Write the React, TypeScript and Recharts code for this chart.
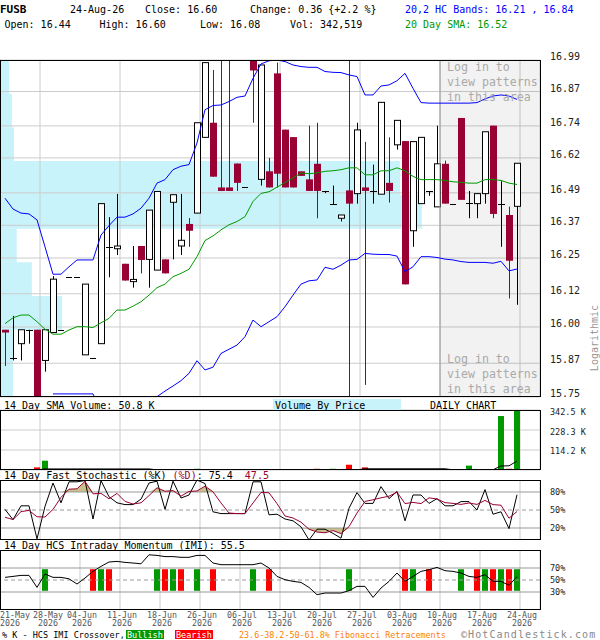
import React from "react";
import {
  BarChart,
  ComposedChart,
  Bar,
  Line,
  Area,
  Cell,
  XAxis,
  YAxis,
  CartesianGrid,
  ReferenceArea,
  ReferenceLine,
} from "recharts";

const MONO = '"DejaVu Sans Mono", "Liberation Mono", monospace';
const MAROON = "#990033";
const UP_GREEN = "#009900";
const DOWN_RED = "#ff0000";
const BAND_BLUE = "#0000ff";
const GRID = "#cccccc";
const KHAKI = "#c9c08c";
const VBP_CYAN = "#c9f3fa";

const ticker = "FUSB";
const lastDate = "24-Aug-26";
const dateLabels = [
  "21-May", "28-May", "04-Jun", "11-Jun", "18-Jun", "26-Jun", "06-Jul",
  "13-Jul", "20-Jul", "27-Jul", "03-Aug", "10-Aug", "17-Aug", "24-Aug",
];
const dateYear = "2026";

// daily OHLC, 21-May-26 .. 24-Aug-26
const opens = [
  15.99, 15.89, 15.94, 15.99, 15.99, 15.88, 15.98, 15.99, 16.18, 16.18,
  15.9, 15.89, 15.94, 16.29, 16.284, 16.229, 16.164, 16.294, 16.245, 16.206,
  16.245, 16.455, 16.294, 16.375, 16.415, 16.697, 16.752, 16.51, 16.51, 16.599,
  16.51, 16.99, 16.54, 16.57, 16.939, 16.726, 16.698, 16.57, 16.54, 16.598,
  16.497, 16.448, 16.396, 16.499, 16.487, 16.51, 16.497, 16.485, 16.527, 16.669,
  16.683, 16.35, 16.45, 16.497, 16.438, 16.598, 16.45, 16.77, 16.454, 16.45,
  16.487, 16.741, 16.45, 16.408, 16.44,
];
const highs = [
  15.99, 16.04, 15.99, 15.99, 15.99, 15.99, 16.184, 15.99, 16.18, 16.18,
  16.155, 15.89, 16.45, 16.4, 16.486, 16.229, 16.294, 16.294, 16.426, 16.495,
  16.245, 16.483, 16.486, 16.397, 16.752, 16.98, 16.952, 17.1, 17.1, 16.599,
  16.51, 16.99, 16.971, 16.62, 16.98, 16.726, 16.698, 16.57, 16.741, 16.752,
  16.497, 16.517, 16.408, 17.1, 16.752, 16.68, 16.595, 16.829, 16.697, 16.761,
  16.683, 16.681, 16.697, 16.497, 16.741, 16.61, 16.45, 16.77, 16.497, 16.487,
  16.718, 16.741, 16.533, 16.439, 16.6,
];
const lows = [
  15.86, 15.88, 15.88, 15.94, 15.68, 15.84, 15.98, 15.99, 16.18, 16.18,
  15.9, 15.89, 15.94, 16.18, 16.261, 16.168, 16.142, 16.194, 16.142, 16.206,
  16.194, 16.245, 16.261, 16.291, 16.415, 16.697, 16.55, 16.497, 16.497, 16.497,
  16.51, 16.752, 16.517, 16.51, 16.51, 16.51, 16.51, 16.553, 16.497, 16.396,
  16.489, 16.448, 16.384, 15.7, 16.45, 15.793, 16.45, 16.485, 16.454, 16.651,
  16.154, 16.291, 16.45, 16.479, 16.438, 16.45, 16.45, 16.464, 16.396, 16.396,
  16.45, 16.396, 16.291, 16.103, 16.08,
];
const closes = [
  15.98, 15.89, 15.99, 15.99, 15.7, 15.99, 16.173, 15.99, 16.18, 16.18,
  16.155, 15.89, 16.45, 16.29, 16.294, 16.168, 16.172, 16.243, 16.426, 16.495,
  16.194, 16.483, 16.315, 16.35, 16.752, 16.98, 16.55, 16.497, 16.497, 16.527,
  16.51, 16.95, 16.971, 16.51, 16.561, 16.51, 16.51, 16.553, 16.497, 16.497,
  16.497, 16.448, 16.408, 16.45, 16.725, 16.497, 16.497, 16.829, 16.497, 16.761,
  16.154, 16.681, 16.697, 16.497, 16.598, 16.45, 16.45, 16.464, 16.454, 16.487,
  16.718, 16.412, 16.45, 16.24, 16.6,
];

// 20,2 HC bands and 20 day SMA
const upperBand = [
  16.47, 16.43, 16.415, 16.412, 16.39, 16.291, 16.191, 16.191, 16.218, 16.243,
  16.243, 16.243, 16.334, 16.369, 16.4, 16.4, 16.412, 16.433, 16.47, 16.526,
  16.539, 16.576, 16.589, 16.595, 16.676, 16.801, 16.817, 16.819, 16.832, 16.848,
  16.853, 16.92, 16.975, 16.987, 16.99, 16.984, 16.971, 16.965, 16.962, 16.962,
  16.946, 16.943, 16.942, 16.933, 16.927, 16.857, 16.857, 16.891, 16.895, 16.911,
  16.939, 16.882, 16.828, 16.826, 16.826, 16.826, 16.826, 16.826, 16.826, 16.828,
  16.842, 16.853, 16.857, 16.853, 16.84,
];
const lowerBand = [
  null, null, null, null, null, null, 15.761, 15.761, 15.761, 15.761,
  15.761, 15.761, 15.7, 15.69, 15.69, 15.69, 15.7, 15.71, 15.73, 15.751,
  15.771, 15.789, 15.808, 15.834, 15.879, 15.846, 15.856, 15.905, 15.92, 15.935,
  15.965, 16.025, 16.001, 16.019, 16.037, 16.073, 16.115, 16.155, 16.167, 16.17,
  16.216, 16.209, 16.224, 16.243, 16.245, 16.267, 16.264, 16.263, 16.263, 16.257,
  16.2, 16.218, 16.255, 16.255, 16.252, 16.246, 16.243, 16.237, 16.234, 16.234,
  16.234, 16.231, 16.238, 16.203, 16.21,
];
const sma20 = [
  16.012, 16.033, 16.043, 16.043, 16.019, 15.992, 15.974, 15.974, 15.989, 16.001,
  16.001, 15.998, 16.015, 16.031, 16.061, 16.061, 16.075, 16.091, 16.115, 16.142,
  16.155, 16.182, 16.194, 16.209, 16.255, 16.314, 16.331, 16.353, 16.372, 16.384,
  16.402, 16.458, 16.488, 16.494, 16.511, 16.528, 16.545, 16.564, 16.561, 16.564,
  16.57, 16.572, 16.576, 16.583, 16.583, 16.557, 16.557, 16.572, 16.572, 16.583,
  16.572, 16.551, 16.539, 16.539, 16.539, 16.536, 16.531, 16.529, 16.526, 16.526,
  16.539, 16.539, 16.536, 16.526, 16.521,
];

// volume in thousands of shares, and its 14 day SMA
const volumeK = [
  4, 6, 0.5, 0.5, 15, 53, 3, 3, 3, 3,
  3, 3, 3, 3, 3, 3, 3, 3, 3, 0.5,
  0.5, 0.5, 0.5, 0.5, 7, 0.5, 0.5, 0.5, 0.5, 0.5,
  0.5, 0.5, 0.5, 0.5, 0.5, 0.5, 0.5, 0.5, 0.5, 7,
  0.5, 7, 0.5, 30, 0.5, 15, 3, 3, 3, 3,
  3, 3, 3, 3, 3, 3, 0.5, 0.5, 25, 0.5,
  0.5, 2, 308, 7, 342.519,
];
const volumeSmaK = [
  1, 1, 1, 1, 1, 6, 6, 6, 6, 6,
  6, 6, 6, 6, 6, 6, 6, 6, 6, 1,
  1, 1, 1, 1, 1, 1, 1, 1, 1, 1,
  1, 1, 1, 1, 1, 1, 1, 1, 1, 1,
  1, 1, 1, 1, 1, 7, 7, 7, 7, 7,
  7, 7, 7, 7, 7, 7, 1, 1, 1, 1,
  1, 1, 23, 24, 50.8,
];

// 14 day fast stochastic
const stochK = [
  51, 34, 57, 57, 2, 56, 95, 62, 97, 97,
  99, 35, 99, 72, 62, 59, 59, 68, 95, 98,
  51, 98, 70, 75, 100, 94, 47, 44, 44, 44,
  44, 97, 97, 42, 43, 35, 32, 22, 0, 18,
  18, 11, 3, 53, 79, 61, 61, 89, 69, 81,
  32, 75, 75, 61, 69, 57, 57, 64, 64, 50,
  84, 43, 47, 19, 75.4,
];
const stochD = [
  38, 34, 47.3, 49.3, 38.7, 38.3, 51, 71, 84.7, 85.3,
  97.7, 77, 77.7, 68.7, 77.7, 64.3, 60, 62, 74, 87,
  81.3, 82.3, 73, 81, 81.7, 89.7, 80.3, 61.7, 45, 44,
  44, 61.7, 79.3, 78.7, 60.7, 40, 36.7, 29.7, 18, 13.3,
  12, 15.7, 10.7, 22.3, 45, 64.3, 67, 70.3, 73, 79.7,
  60.7, 62.7, 60.7, 70.3, 68.3, 62.3, 61, 59.3, 61.7, 59.3,
  66, 59, 58, 36.3, 47.5,
];

// 14 day HCS intraday momentum
const imi = [
  54.4, 56, 57.7, 57.7, 37.7, 60, 54.4, 54.4, 52, 43.3,
  53.3, 64.4, 72.7, 80, 81, 79.4, 78.3, 77, 92, 91,
  89, 89, 87.8, 87.8, 91, 91, 78.3, 75.5, 75.5, 75.5,
  75.5, 75.5, 78.3, 70, 56, 50.5, 47.7, 46, 37.7, 25.5,
  28.3, 28.3, 28.3, 32.2, 39.4, 39.4, 21, 36.6, 47.7, 61.6,
  47.7, 56, 64.4, 67.2, 71, 65.5, 64.4, 61.6, 56, 54.4,
  58.9, 47.7, 47.7, 41.1, 55.5,
];

// %K / IMI crossover days (row index)
const bullishDays = [5, 12, 19, 21, 24, 31, 43, 51, 57, 60, 62, 64];
const bearishDays = [11, 13, 20, 22, 26, 33, 50, 53, 59, 61, 63];

const priceTicks = [15.75, 15.87, 16.0, 16.12, 16.25, 16.37, 16.49, 16.62, 16.74, 16.87, 16.99];
const volumeTicks = [114.2, 228.3, 342.5];
const stochTicks = [20, 50, 80];
const imiTicks = [30, 50, 70];

// volume by price, one bin per price grid step, top bin first (K shares)
const vbpVolumeK = [17, 22, 26, 741, 781, 31, 59, 115, 24, 24];

const W = 600;
const AXIS_W = 60;
const X_DOMAIN: [number, number] = [-0.625, 66.875];
const xTicks = dateLabels.map((_, k) => k * 5 - 0.625);
const shadeFrom = xTicks[11];
const DATE_FONT = 8.3;
const DATE_W = 6 * 0.602 * DATE_FONT;

const rows = closes.map((c, i) => ({
  i,
  o: opens[i],
  h: highs[i],
  l: lows[i],
  c,
  upper: upperBand[i],
  lower: lowerBand[i],
  sma: sma20[i],
  vol: volumeK[i],
  volSma: volumeSmaK[i],
  k: stochK[i],
  d: stochD[i],
  imi: imi[i],
  cross: bullishDays.includes(i) ? "bull" : bearishDays.includes(i) ? "bear" : null,
}));

const vbpRows = vbpVolumeK.map((v, b) => ({
  bin: `${priceTicks[priceTicks.length - 2 - b].toFixed(2)}-${priceTicks[priceTicks.length - 1 - b].toFixed(2)}`,
  vol: v,
}));

const last = closes.length - 1;
const change = closes[last] - closes[last - 1];
const changePct = (change / closes[last - 1]) * 100;

function Candle(props: any) {
  const { x, y, width, height, payload } = props;
  if (x == null || y == null || !payload) return null;
  const { o, h, l, c } = payload;
  const col = Math.round(x + width / 2);
  const cx = col + 0.5;
  const top = Math.min(y, y + height);
  const bot = Math.max(y, y + height);
  const span = Math.log(h) - Math.log(l);
  const py = (p: number) =>
    span > 0 ? top + ((bot - top) * (Math.log(h) - Math.log(p))) / span : top;
  const up = c >= o;
  const color = up ? "#000" : MAROON;

  if (span === 0) {
    const yy = Math.round(top) + 0.5;
    return <line x1={col - 3} x2={col + 3} y1={yy} y2={yy} stroke="#000" />;
  }
  const bTop = py(Math.max(o, c));
  const bBot = py(Math.min(o, c));
  const wick = <line x1={cx} x2={cx} y1={top} y2={bot} stroke={color} />;
  if (bBot - bTop < 1) {
    const yy = Math.round(bTop) + 0.5;
    return (
      <g>
        {wick}
        <line x1={col - 3} x2={col + 4} y1={yy} y2={yy} stroke={color} />
      </g>
    );
  }
  return (
    <g>
      {wick}
      {up ? (
        <rect x={col - 2.5} y={bTop} width={6} height={bBot - bTop} fill="#fff" stroke="#000" />
      ) : (
        <rect x={col - 3} y={bTop} width={7} height={bBot - bTop} fill={MAROON} />
      )}
    </g>
  );
}

const rightTick =
  (fmt: (v: number) => string, size: number, dy: number) => (props: any) => (
    <text
      x={props.x}
      y={props.y + dy}
      fontFamily={MONO}
      fontSize={size}
      fill="#222"
      dominantBaseline="central"
    >
      {fmt(props.payload.value)}
    </text>
  );

// two-line date labels; the first sits flush left, the second is pushed clear of it
const DateTick = (props: any) => {
  const k = Math.round((props.payload.value - X_DOMAIN[0]) / 5);
  const first = k === 0;
  const x = first ? 0 : Math.max(props.x + 2, DATE_W * 1.5 + 3);
  const anchor = first ? "start" : "middle";
  return (
    <g fontFamily={MONO} fontSize={DATE_FONT} fill="#555">
      <text x={x} y={props.y + 7.5} textAnchor={anchor}>{dateLabels[k]}</text>
      <text x={x} y={props.y + 16} textAnchor={anchor}>{dateYear}</text>
    </g>
  );
};

const hiddenX = (
  <XAxis dataKey="i" type="number" domain={X_DOMAIN} ticks={xTicks} allowDataOverflow hide />
);

function Txt({
  x,
  y,
  size = 10,
  color = "#000",
  bold = false,
  spacing,
  children,
}: {
  x: number;
  y: number;
  size?: number;
  color?: string;
  bold?: boolean;
  spacing?: number;
  children: React.ReactNode;
}) {
  return (
    <text
      x={x}
      y={y}
      fontFamily={MONO}
      fontSize={size}
      fill={color}
      fontWeight={bold ? "bold" : "normal"}
      letterSpacing={spacing}
      style={{ whiteSpace: "pre" }}
    >
      {children}
    </text>
  );
}

const abs = (top: number): React.CSSProperties => ({ position: "absolute", left: 0, top });

export default function App() {
  return (
    <div
      style={{
        position: "absolute",
        left: 0,
        top: 0,
        width: W,
        height: 640,
        background: "#fff",
        overflow: "hidden",
      }}
    >
      {/* volume by price, under the candles */}
      <div style={abs(60)}>
        <BarChart
          layout="vertical"
          width={540}
          height={337}
          data={vbpRows}
          margin={{ top: 0, right: 0, bottom: 0, left: 0 }}
          barCategoryGap={0}
        >
          <XAxis type="number" domain={[0, 1000]} allowDataOverflow hide />
          <YAxis type="category" dataKey="bin" hide />
          <Bar dataKey="vol" fill={VBP_CYAN} isAnimationActive={false} />
        </BarChart>
      </div>

      {/* price panel */}
      <div style={abs(40)}>
        <ComposedChart
          width={W}
          height={362}
          data={rows}
          margin={{ top: 20, right: 0, bottom: 5, left: 0 }}
        >
          {hiddenX}
          <YAxis
            orientation="right"
            width={AXIS_W}
            scale="log"
            domain={[priceTicks[0], priceTicks[priceTicks.length - 1]]}
            allowDataOverflow
            ticks={priceTicks}
            interval={0}
            axisLine={false}
            tickLine={false}
            tickSize={0}
            tickMargin={10}
            tick={rightTick((v) => v.toFixed(2), 10, -3.5)}
          />
          <CartesianGrid stroke={GRID} />
          <ReferenceArea x1={shadeFrom} x2={X_DOMAIN[1]} fill="#000" fillOpacity={0.05} stroke="none" />
          <ReferenceLine x={shadeFrom} stroke="#999" />
          <Bar
            dataKey={(d: any) => [d.l, d.h]}
            barSize={6}
            shape={Candle}
            isAnimationActive={false}
          />
          <Line dataKey="upper" stroke={BAND_BLUE} dot={false} isAnimationActive={false} />
          <Line dataKey="lower" stroke={BAND_BLUE} dot={false} isAnimationActive={false} />
          <Line dataKey="sma" stroke={UP_GREEN} dot={false} isAnimationActive={false} />
        </ComposedChart>
      </div>

      {/* volume panel */}
      <div style={abs(405)}>
        <ComposedChart
          width={W}
          height={70}
          data={rows}
          margin={{ top: 5, right: 0, bottom: 5, left: 0 }}
        >
          {hiddenX}
          <YAxis
            orientation="right"
            width={AXIS_W}
            domain={[0, volumeTicks[volumeTicks.length - 1]]}
            allowDataOverflow
            ticks={volumeTicks}
            interval={0}
            axisLine={false}
            tickLine={false}
            tickSize={0}
            tickMargin={10}
            tick={rightTick((v) => `${v.toFixed(1)} K`, 8.5, 1.5)}
          />
          <CartesianGrid stroke={GRID} />
          <Bar dataKey="vol" barSize={6} isAnimationActive={false}>
            {rows.map((r) => (
              <Cell key={r.i} fill={r.c >= r.o ? UP_GREEN : DOWN_RED} />
            ))}
          </Bar>
          <Line dataKey="volSma" stroke="#000" dot={false} isAnimationActive={false} />
        </ComposedChart>
      </div>

      {/* fast stochastic panel */}
      <div style={abs(475)}>
        <ComposedChart
          width={W}
          height={70}
          data={rows}
          margin={{ top: 5, right: 0, bottom: 5, left: 0 }}
        >
          {hiddenX}
          <YAxis
            orientation="right"
            width={AXIS_W}
            domain={[0, 100]}
            ticks={stochTicks}
            interval={0}
            axisLine={false}
            tickLine={false}
            tickSize={0}
            tickMargin={10}
            tick={rightTick((v) => `${v}%`, 8.5, 0)}
          />
          <CartesianGrid horizontal={false} stroke={GRID} />
          <ReferenceLine y={80} stroke="#999" />
          <ReferenceLine y={20} stroke="#999" />
          <ReferenceLine y={50} stroke="#999" strokeDasharray="4 3" />
          <Area
            dataKey={(d: any) => [80, Math.max(80, d.d)]}
            fill={KHAKI}
            fillOpacity={1}
            stroke="none"
            isAnimationActive={false}
          />
          <Area
            dataKey={(d: any) => [Math.min(20, d.d), 20]}
            fill={KHAKI}
            fillOpacity={1}
            stroke="none"
            isAnimationActive={false}
          />
          <Line dataKey="k" stroke="#000" dot={false} isAnimationActive={false} />
          <Line dataKey="d" stroke={MAROON} dot={false} isAnimationActive={false} />
        </ComposedChart>
      </div>

      {/* intraday momentum panel with date axis */}
      <div style={abs(545)}>
        <ComposedChart
          width={W}
          height={95}
          data={rows}
          margin={{ top: 5, right: 0, bottom: 0, left: 0 }}
        >
          <XAxis
            dataKey="i"
            type="number"
            domain={X_DOMAIN}
            ticks={xTicks}
            interval={0}
            allowDataOverflow
            height={30}
            axisLine={false}
            tickLine={false}
            tickSize={0}
            tickMargin={0}
            tick={DateTick}
          />
          <YAxis
            orientation="right"
            width={AXIS_W}
            domain={[0, 100]}
            ticks={imiTicks}
            interval={0}
            axisLine={false}
            tickLine={false}
            tickSize={0}
            tickMargin={10}
            tick={rightTick((v) => `${v}%`, 8.5, 0)}
          />
          <CartesianGrid horizontal={false} stroke={GRID} />
          <ReferenceLine y={70} stroke="#999" />
          <ReferenceLine y={30} stroke="#999" />
          <ReferenceLine y={50} stroke="#999" strokeDasharray="4 3" />
          <Bar
            dataKey={(d: any) => (d.cross ? [32, 68] : null)}
            barSize={6}
            isAnimationActive={false}
          >
            {rows.map((r) => (
              <Cell key={r.i} fill={r.cross === "bull" ? UP_GREEN : DOWN_RED} />
            ))}
          </Bar>
          <Line dataKey="imi" stroke="#000" dot={false} isAnimationActive={false} />
        </ComposedChart>
      </div>

      {/* frames, titles and legend */}
      <svg
        width={W}
        height={640}
        style={{ position: "absolute", left: 0, top: 0, pointerEvents: "none" }}
      >
        <g fill="none" stroke="#000">
          <rect x={0.5} y={60.5} width={540} height={336} />
          <rect x={0.5} y={410.5} width={540} height={59} />
          <rect x={0.5} y={480.5} width={540} height={59} />
          <rect x={0.5} y={550.5} width={540} height={59} />
        </g>

        <Txt x={0} y={13} size={11} bold>{ticker}</Txt>
        <Txt x={70} y={13}>{lastDate}</Txt>
        <Txt x={145} y={13}>{`Close: ${closes[last].toFixed(2)}`}</Txt>
        <Txt x={250} y={13}>
          {`Change: ${change.toFixed(2)} {${change >= 0 ? "+" : ""}${changePct.toFixed(1)} %}`}
        </Txt>
        <Txt x={405} y={13} color={BAND_BLUE}>
          {`20,2 HC Bands: ${lowerBand[last]!.toFixed(2)} , ${upperBand[last].toFixed(2)}`}
        </Txt>
        <Txt x={4.5} y={28}>{`Open: ${opens[last].toFixed(2)}`}</Txt>
        <Txt x={99.5} y={28}>{`High: ${highs[last].toFixed(2)}`}</Txt>
        <Txt x={200} y={28}>{`Low: ${lows[last].toFixed(2)}`}</Txt>
        <Txt x={290} y={28}>
          {`Vol: ${Math.round(volumeK[last] * 1000).toLocaleString("en-US")}`}
        </Txt>
        <Txt x={405} y={28} color={UP_GREEN}>{`20 Day SMA: ${sma20[last].toFixed(2)}`}</Txt>

        {["Log in to", "view patterns", "in this area"].map((s, n) => (
          <React.Fragment key={s}>
            <Txt x={447} y={71 + n * 15} size={11.6} color="#aaaaaa">{s}</Txt>
            <Txt x={447} y={363 + n * 15} size={11.6} color="#aaaaaa">{s}</Txt>
          </React.Fragment>
        ))}

        <text
          x={598}
          y={338}
          transform="rotate(-90 598 338)"
          textAnchor="middle"
          fontFamily={MONO}
          fontSize={10}
          fill="#999"
        >
          Logarithmic
        </text>

        <Txt x={4} y={409}>{`14 Day SMA Volume: ${volumeSmaK[last].toFixed(1)} K`}</Txt>
        <rect x={273} y={399} width={128} height={11} fill={VBP_CYAN} />
        <Txt x={275} y={409}>Volume By Price</Txt>
        <Txt x={430} y={409}>DAILY CHART</Txt>

        <text x={4} y={479} fontFamily={MONO} fontSize={10} style={{ whiteSpace: "pre" }}>
          <tspan fill="#000">14 Day Fast Stochastic (%K) </tspan>
          <tspan fill={MAROON}>(%D)</tspan>
          <tspan fill="#000">{`: ${stochK[last].toFixed(1)}  `}</tspan>
          <tspan fill={MAROON}>{stochD[last].toFixed(1)}</tspan>
        </text>

        <Txt x={4} y={549}>{`14 Day HCS Intraday Momentum (IMI): ${imi[last].toFixed(1)}`}</Txt>

        <Txt x={2} y={637.5} size={8.5}>% K - HCS IMI Crossover,</Txt>
        <rect x={126} y={630} width={38} height={9} fill={UP_GREEN} />
        <Txt x={127} y={637.5} size={8.5} color="#fff">Bullish</Txt>
        <rect x={175} y={630} width={38} height={9} fill={DOWN_RED} />
        <Txt x={176} y={637.5} size={8.5} color="#fff">Bearish</Txt>
        <Txt x={239} y={637.5} size={8.4} color="#ff8000">
          23.6-38.2-50-61.8% Fibonacci Retracements
        </Txt>
        <Txt x={461} y={637.5} size={10} spacing={1.1} color="#888">©HotCandlestick.com</Txt>
      </svg>
    </div>
  );
}
